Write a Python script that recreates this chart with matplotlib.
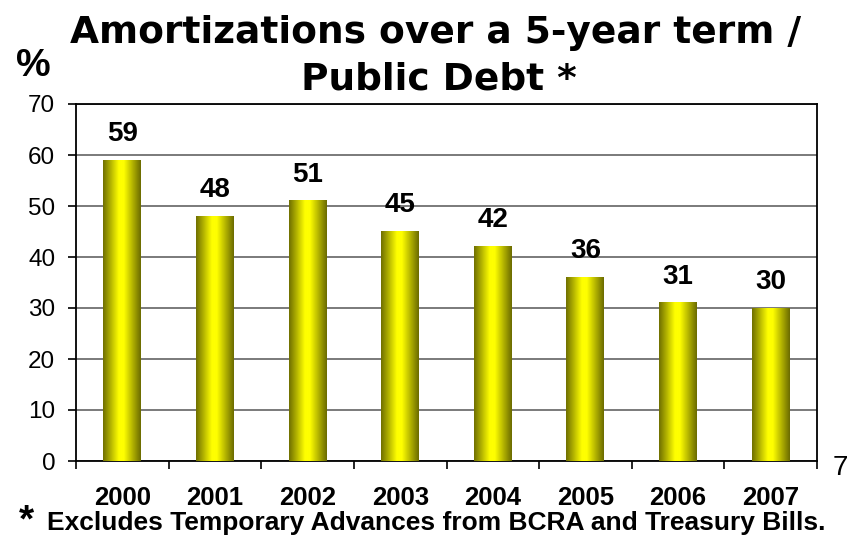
import numpy as np
import matplotlib
matplotlib.use("Agg")
import matplotlib.pyplot as plt
from matplotlib.colors import LinearSegmentedColormap
from matplotlib.transforms import blended_transform_factory

plt.rcParams['font.family'] = ['Liberation Sans', 'DejaVu Sans']

years = ["2000", "2001", "2002", "2003", "2004", "2005", "2006", "2007"]
values = [59, 48, 51, 45, 42, 36, 31, 30]

W, H = 855, 543
fig = plt.figure(figsize=(W / 100, H / 100), dpi=100)
ax = fig.add_axes([76 / W, 1 - 461 / H, (817 - 76) / W, (461 - 104) / H])

x = np.arange(len(years))
bar_w = 0.41

# horizontal shading: olive edges, bright yellow centre
cmap = LinearSegmentedColormap.from_list(
    "bar", [(0.0, "#6e6e00"), (0.42, "#ffff00"), (0.55, "#ffff00"), (1.0, "#6a6a00")])
grad = np.linspace(0, 1, 256).reshape(1, -1)

bars = ax.bar(x, values, width=bar_w, color="none", edgecolor="none", zorder=3)
for b, v in zip(bars, values):
    x0 = b.get_x()
    ax.imshow(grad, cmap=cmap, aspect="auto", extent=[x0, x0 + bar_w, 0, v],
              zorder=3, interpolation="bicubic")
    ax.text(x0 + bar_w / 2, v + 3.8, str(v), ha="center", va="baseline",
            fontsize=20, fontweight="bold", zorder=4)

ax.set_xlim(-0.5, len(years) - 0.5)
ax.set_ylim(0, 70)
ax.set_yticks(np.arange(0, 71, 10))
ax.yaxis.grid(True, color="#7a7a7a", linewidth=1.4, zorder=0)
ax.set_axisbelow(True)

ax.set_xticks(np.arange(-0.5, len(years), 1))
ax.set_xticklabels([])
ax.tick_params(axis="x", length=6, width=1.2, direction="out", color="black")
ax.tick_params(axis="y", length=6, width=1.2, direction="out", labelsize=17.5, pad=9)

# year labels under each bar
trans = blended_transform_factory(ax.transData, fig.transFigure)
for xi, yr in zip(x, years):
    ax.text(xi, 1 - 505 / H, yr, transform=trans, ha="center", va="baseline",
            fontsize=18.5, fontweight="bold")

for s in ax.spines.values():
    s.set_color("black")
    s.set_linewidth(1.3)

title_font = dict(family=["DejaVu Sans"], fontsize=27, fontweight="bold",
                  ha="center", va="baseline")
fig.text(436 / W, 1 - 43 / H, "Amortizations over a 5-year term /", **title_font)
fig.text(439 / W, 1 - 89 / H, "Public Debt *", **title_font)

fig.text(33 / W, 1 - 66 / H, "%", ha="center", va="center", fontsize=28, fontweight="bold")
fig.text(840 / W, 1 - 475 / H, "7", ha="center", va="baseline", fontsize=20)
fig.text(26 / W, 1 - 531 / H, "*", ha="center", va="baseline", fontsize=28, fontweight="bold")
fig.text(47 / W, 1 - 530 / H, "Excludes Temporary Advances from BCRA and Treasury Bills.",
         ha="left", va="baseline", fontsize=19, fontweight="bold")

fig.savefig("out.png", dpi=100)
